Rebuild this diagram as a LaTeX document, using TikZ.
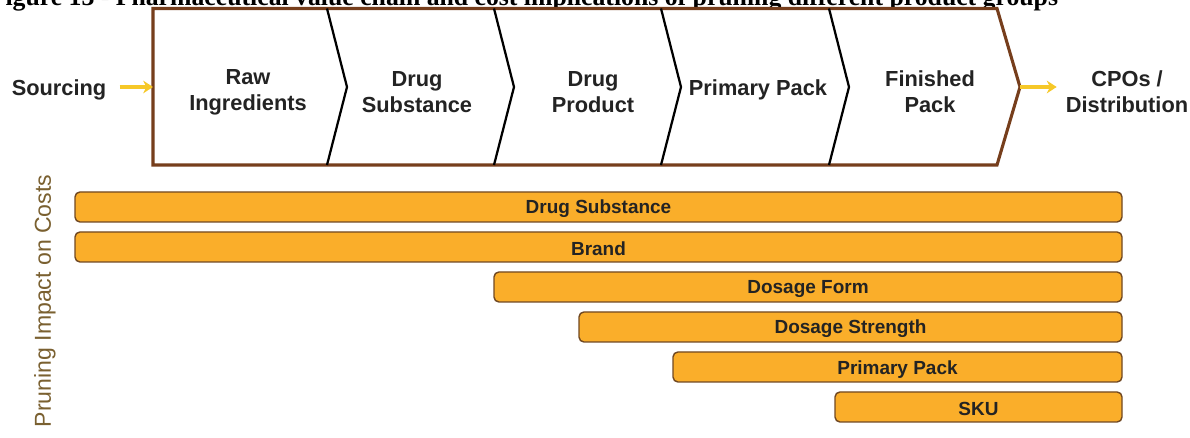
\documentclass[tikz,border=0pt]{standalone}
\usepackage{fontspec}
\setmainfont{Liberation Sans}
\newfontfamily\titlefont{Liberation Serif}
\usetikzlibrary{arrows.meta}
\usetikzlibrary{fit}
\definecolor{chainbrown}{RGB}{118,62,28}
\definecolor{barbrown}{RGB}{112,72,34}
\definecolor{barorange}{RGB}{250,174,42}
\definecolor{flowyellow}{RGB}{246,200,40}
\definecolor{axisbrown}{RGB}{122,96,48}
\definecolor{textgray}{RGB}{35,35,35}

\begin{document}
\begin{tikzpicture}[x=0.025cm,y=-0.025cm,
  stage/.style={font=\bfseries\fontsize{15.5}{18.5}\selectfont,align=center,text=textgray},
  flow/.style={-{Stealth[length=7pt,width=9pt]},line width=2.6pt,draw=flowyellow},
  bar/.style={draw=barbrown,fill=barorange,line width=1pt,rounded corners=3.5pt,inner sep=0pt},
  barlabel/.style={font=\bfseries\fontsize{13.5}{16}\selectfont,text=textgray,yshift=-1.5pt}]
\useasboundingbox (0,0) rectangle (1190,438);

\begin{scope}
\clip (0,0) rectangle (1190,438);
\node[anchor=base east,font=\titlefont\bfseries\fontsize{18.3}{21}\selectfont] (title) at (1063,6)
  {Figure 13 - Pharmaceutical value chain and cost implications of pruning different product groups};
\end{scope}

\draw[chainbrown,line width=2.2pt,fill=white] (153,8.5)--(997,8.5)--(1020,87)--(997,165)--(153,165)--cycle;
\coordinate (chainin) at (153,87);
\coordinate (chainout) at (1020,87);

\draw[line width=1.6pt] (327,8.5)--(347,87)--(327,165);
\draw[line width=1.6pt] (494,8.5)--(514,87)--(494,165);
\draw[line width=1.6pt] (661,8.5)--(681,87)--(661,165);
\draw[line width=1.6pt] (829,8.5)--(849,87)--(829,165);

\node[stage] (sourcing) at (59,90) {Sourcing};
\node[stage] (raw) at (248,92) {Raw\\Ingredients};
\node[stage] (substance) at (417,92) {Drug\\Substance};
\node[stage] (product) at (593,92) {Drug\\Product};
\node[stage] (primary) at (758,90) {Primary Pack};
\node[stage] (finished) at (930,92) {Finished\\Pack};
\node[stage] (cpos) at (1127,92) {CPOs /\\Distribution};

\draw[flow,shorten <=6pt] (sourcing.east |- chainin) -- (chainin);
\draw[flow,shorten >=3pt] (chainout) -- (chainout -| cpos.west);

\node[rotate=90,font=\fontsize{16.4}{19}\selectfont,text=axisbrown] (impact) at (45,301) {Pruning Impact on Costs};

\node[bar,fit={(75,192) (1122,222)}] (substancebar) {};
\node[bar,fit={(75,232) (1122,262)}] (brandbar) {};
\node[bar,fit={(494,272) (1122,302)}] (formbar) {};
\node[bar,fit={(579,312) (1122,342)}] (strengthbar) {};
\node[bar,fit={(673,352) (1122,382)}] (packbar) {};
\node[bar,fit={(835,392) (1122,422)}] (skubar) {};

\node[barlabel] (substancetext) at (substancebar) {Drug Substance};
\node[barlabel] (brandtext) at (brandbar) {Brand};
\node[barlabel] (formtext) at (formbar) {Dosage Form};
\node[barlabel] (strengthtext) at (strengthbar) {Dosage Strength};
\node[barlabel] (packtext) at (packbar) {Primary Pack};
\node[barlabel] (skutext) at (skubar) {SKU};
\end{tikzpicture}
\end{document}
